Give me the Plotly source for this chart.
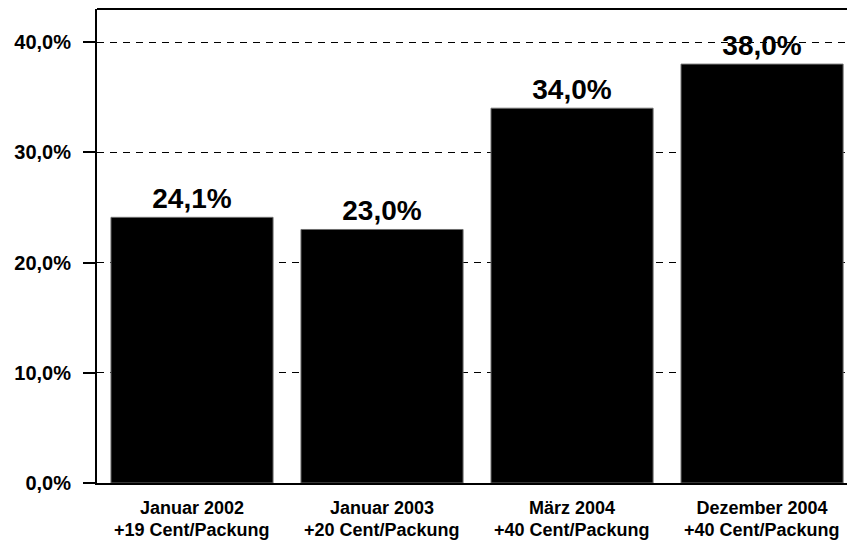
import plotly.graph_objects as go

# Anteil / Preiserhöhungen
dates = ["Januar 2002", "Januar 2003", "März 2004", "Dezember 2004"]
increases = ["+19 Cent/Packung", "+20 Cent/Packung", "+40 Cent/Packung", "+40 Cent/Packung"]
values = [24.1, 23.0, 34.0, 38.0]
tick_vals = [0, 10, 20, 30, 40]
tick_text = ["0,0%", "10,0%", "20,0%", "30,0%", "40,0%"]
bar_labels = [f"{v:.1f}%".replace(".", ",") for v in values]

FONT = "Liberation Sans, Arial, Helvetica, sans-serif"
positions = list(range(len(dates)))

fig = go.Figure(
    go.Bar(
        x=positions,
        y=values,
        text=bar_labels,
        textposition="outside",
        texttemplate="<b>%{text}</b>",
        textfont=dict(family=FONT, size=28, color="black"),
        cliponaxis=False,
        marker=dict(color="black", line=dict(color="#6e6e6e", width=1)),
        width=0.853,
        hoverinfo="skip",
    )
)

# second line of each category label, placed under the tick label
annotations = [
    dict(x=p, y=0, xref="x", yref="y", text=f"<b>{t}</b>", showarrow=False,
         yanchor="top", yshift=-35, font=dict(family=FONT, size=18, color="black"))
    for p, t in zip(positions, increases)
]

fig.update_layout(
    width=847,
    height=540,
    margin=dict(l=97, r=0, t=9, b=57),
    paper_bgcolor="white",
    plot_bgcolor="white",
    showlegend=False,
    font=dict(family=FONT, color="black"),
    annotations=annotations,
    shapes=[
        dict(type="line", xref="paper", yref="paper", x0=0, x1=1, y0=1, y1=1,
             line=dict(color="black", width=2)),
    ],
)

fig.update_xaxes(
    range=[-0.5, 3.447],
    tickmode="array",
    tickvals=positions,
    ticktext=[f"<b>{d}</b>" for d in dates],
    tickfont=dict(family=FONT, size=18, color="black"),
    showgrid=False,
    showline=True,
    linecolor="black",
    linewidth=1.5,
    ticks="",
    zeroline=False,
    ticklabelstandoff=8,
    automargin=False,
)

fig.update_yaxes(
    range=[0, 43],
    tickmode="array",
    tickvals=tick_vals,
    ticktext=[f"<b>{t}</b>" for t in tick_text],
    tickfont=dict(family=FONT, size=20, color="black"),
    ticks="outside",
    ticklen=12,
    tickwidth=1.5,
    tickcolor="black",
    showline=True,
    linecolor="black",
    linewidth=2,
    showgrid=True,
    gridcolor="black",
    gridwidth=1,
    griddash="7px,6px",
    zeroline=False,
    ticklabelstandoff=8,
    automargin=False,
)

fig.write_html("out.html")
